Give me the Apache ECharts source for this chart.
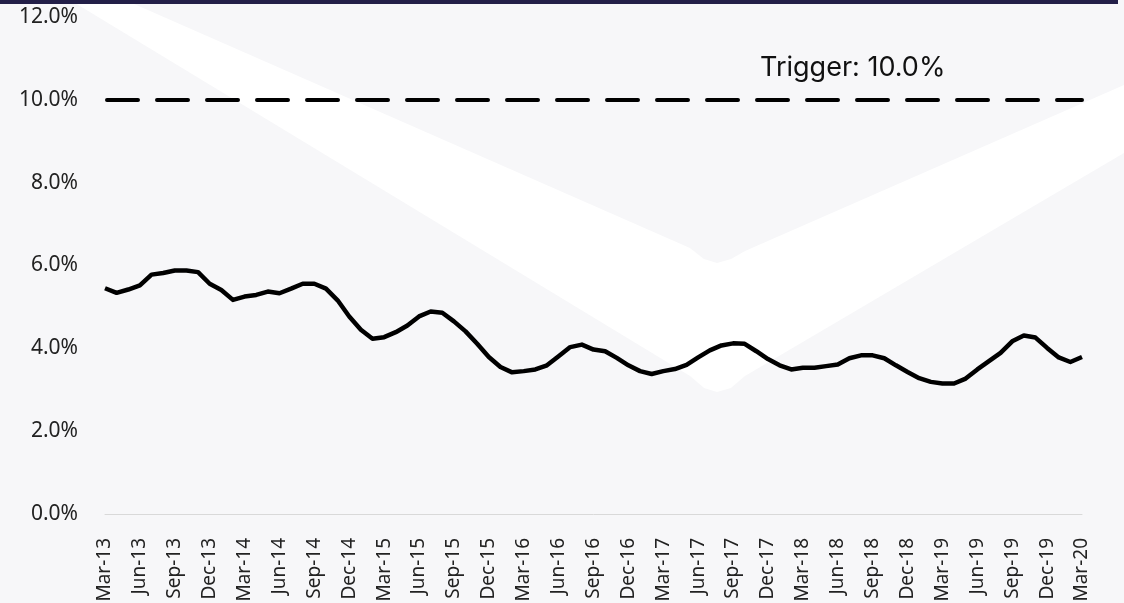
<!DOCTYPE html>
<html>
<head>
<meta charset="utf-8">
<script src="https://cdn.jsdelivr.net/npm/echarts@6/dist/echarts.min.js"></script>
<style>
  html, body { margin: 0; padding: 0; background: #f7f7f9; }
  #chart { width: 1124px; height: 603px; }
</style>
</head>
<body>
<div id="chart"></div>
<script>
// monthly ratio, Mar-13 .. Mar-20
const months = [
  'Mar-13','Apr-13','May-13','Jun-13','Jul-13','Aug-13','Sep-13','Oct-13','Nov-13','Dec-13',
  'Jan-14','Feb-14','Mar-14','Apr-14','May-14','Jun-14','Jul-14','Aug-14','Sep-14','Oct-14','Nov-14','Dec-14',
  'Jan-15','Feb-15','Mar-15','Apr-15','May-15','Jun-15','Jul-15','Aug-15','Sep-15','Oct-15','Nov-15','Dec-15',
  'Jan-16','Feb-16','Mar-16','Apr-16','May-16','Jun-16','Jul-16','Aug-16','Sep-16','Oct-16','Nov-16','Dec-16',
  'Jan-17','Feb-17','Mar-17','Apr-17','May-17','Jun-17','Jul-17','Aug-17','Sep-17','Oct-17','Nov-17','Dec-17',
  'Jan-18','Feb-18','Mar-18','Apr-18','May-18','Jun-18','Jul-18','Aug-18','Sep-18','Oct-18','Nov-18','Dec-18',
  'Jan-19','Feb-19','Mar-19','Apr-19','May-19','Jun-19','Jul-19','Aug-19','Sep-19','Oct-19','Nov-19','Dec-19',
  'Jan-20','Feb-20','Mar-20'
]

const ratio = [
  5.45, 5.34, 5.42, 5.52, 5.78, 5.82, 5.88, 5.88, 5.84, 5.56,
  5.41, 5.17, 5.25, 5.29, 5.37, 5.33, 5.44, 5.56, 5.56, 5.44, 5.16, 4.77,
  4.45, 4.23, 4.27, 4.39, 4.55, 4.77, 4.89, 4.86, 4.65, 4.41, 4.11, 3.79,
  3.55, 3.42, 3.45, 3.49, 3.59, 3.81, 4.03, 4.09, 3.97, 3.93, 3.77, 3.59,
  3.45, 3.38, 3.45, 3.50, 3.60, 3.78, 3.95, 4.07, 4.12, 4.11, 3.93, 3.74,
  3.59, 3.49, 3.53, 3.53, 3.57, 3.61, 3.76, 3.83, 3.83, 3.76, 3.59, 3.43,
  3.28, 3.19, 3.15, 3.15, 3.27, 3.49, 3.69, 3.89, 4.17, 4.31, 4.26, 4.01,
  3.78, 3.67, 3.79
]

const trigger = 10
const yTicks = { min: 0, max: 12, step: 2 }

const font = '"Noto Sans", sans-serif'
const chart = echarts.init(document.getElementById('chart'))

chart.setOption({
  animation: false,
  backgroundColor: '#f7f7f9',
  grid: { left: 105, right: 42, top: 17, bottom: 89, outerBoundsMode: 'none' },
  graphic: [
    // white chevron watermark behind the plot
    {
      type: 'polygon', z: -10, silent: true,
      shape: {
        points: [
          [70, 0], [690, 376], [704, 388], [717, 392], [731, 388], [745, 376],
          [1124, 153], [1124, 85], [745, 251], [731, 259], [717, 263],
          [704, 259], [690, 248], [125, 0]
        ]
      },
      style: { fill: '#ffffff' }
    },
    {
      type: 'rect', z: 10, silent: true,
      shape: { x: 0, y: 0, width: 1118, height: 4 },
      style: { fill: '#231f48' }
    },
    {
      type: 'text', z: 10, silent: true,
      left: 760, top: 54,
      style: {
        text: 'Trigger: ' + trigger.toFixed(1) + '%',
        font: '27px Inter, sans-serif',
        fill: '#111'
      }
    }
  ],
  xAxis: {
    type: 'category',
    data: months,
    boundaryGap: false,
    axisLine: { lineStyle: { color: '#d9d9d9', width: 1 } },
    axisTick: { show: false },
    axisLabel: {
      interval: 2,
      rotate: 90,
      margin: 24,
      fontFamily: font,
      fontSize: 19,
      color: '#222'
    }
  },
  yAxis: {
    type: 'value',
    min: yTicks.min,
    max: yTicks.max,
    interval: yTicks.step,
    splitLine: { show: false },
    axisLine: { show: false },
    axisTick: { show: false },
    axisLabel: {
      margin: 27,
      fontFamily: font,
      fontSize: 21,
      color: '#222',
      formatter: v => v.toFixed(1) + '%'
    }
  },
  series: [
    {
      type: 'line',
      data: ratio,
      symbol: 'none',
      lineStyle: { color: '#000', width: 4.5, join: 'round' },
      markLine: {
        silent: true,
        symbol: 'none',
        label: { show: false },
        lineStyle: { color: '#000', width: 4, type: [31, 19], dashOffset: 48, cap: 'round' },
        data: [{ yAxis: trigger }]
      }
    }
  ]
})
</script>
</body>
</html>
